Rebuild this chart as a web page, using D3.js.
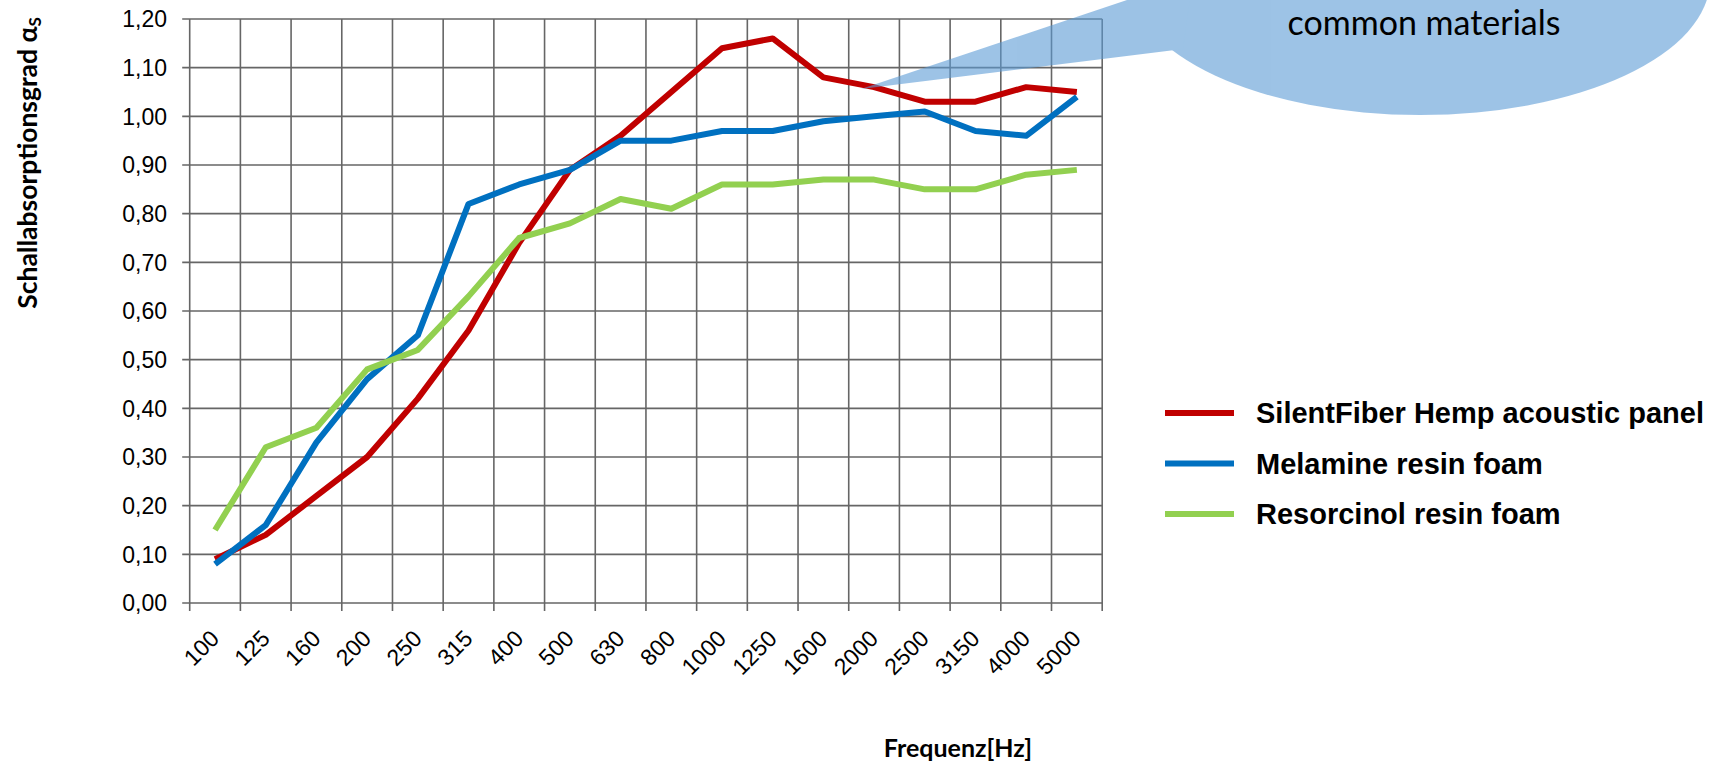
<!DOCTYPE html>
<html lang="de">
<head>
<meta charset="UTF-8">
<title>Schallabsorptionsgrad</title>
<script src="https://d3js.org/d3.v7.min.js"></script>
<style>
  body { margin: 0; background: #fff; }
  .tick-label { font-family: "Liberation Sans", Arial, sans-serif; font-size: 23px; fill: #000; }
  .legend-text { font-family: "Liberation Sans", Arial, sans-serif; font-size: 29px; font-weight: bold; fill: #000; }
  .axis-title { font-family: Lato, "Open Sans", sans-serif; font-weight: bold; fill: #000; }
  .grid { stroke: #666; stroke-width: 1.6; }
</style>
</head>
<body>
<svg id="chart"></svg>
<script>
const frequencies = ["100", "125", "160", "200", "250", "315", "400", "500", "630", "800",
                     "1000", "1250", "1600", "2000", "2500", "3150", "4000", "5000"];
const silentFiber = [0.09, 0.14, 0.22, 0.30, 0.42, 0.56, 0.74, 0.89, 0.96, 1.05,
                     1.14, 1.16, 1.08, 1.06, 1.03, 1.03, 1.06, 1.05];
const melamine = [0.08, 0.16, 0.33, 0.46, 0.55, 0.82, 0.86, 0.89, 0.95, 0.95,
                  0.97, 0.97, 0.99, 1.00, 1.01, 0.97, 0.96, 1.04];
const resorcinol = [0.15, 0.32, 0.36, 0.48, 0.52, 0.63, 0.75, 0.78, 0.83, 0.81,
                    0.86, 0.86, 0.87, 0.87, 0.85, 0.85, 0.88, 0.89];
const seriesNames = ["SilentFiber Hemp acoustic panel", "Melamine resin foam", "Resorcinol resin foam"];
const seriesColors = ["#c00000", "#0070c0", "#92d050"];
const yTickValues = [0, 0.1, 0.2, 0.3, 0.4, 0.5, 0.6, 0.7, 0.8, 0.9, 1.0, 1.1, 1.2];

const width = 1713;
const height = 765;

const svg = d3.select("#chart")
    .attr("width", width)
    .attr("height", height);

const x = d3.scaleBand()
    .domain(frequencies)
    .range([189.7, 1102.2]);

const y = d3.scaleLinear()
    .domain([0, 1.2])
    .range([603, 19]);

const fmt = d3.formatLocale({ decimal: ",", thousands: ".", grouping: [3], currency: ["", "€"] }).format(".2f");

const xLines = frequencies.map(f => x(f)).concat([x.range()[1]]);

// gridlines
svg.append("g").selectAll("line")
    .data(yTickValues)
    .enter().append("line")
    .attr("class", "grid")
    .attr("x1", x.range()[0] - 7.5)
    .attr("x2", x.range()[1])
    .attr("y1", d => y(d))
    .attr("y2", d => y(d));

svg.append("g").selectAll("line")
    .data(xLines)
    .enter().append("line")
    .attr("class", "grid")
    .attr("x1", d => d)
    .attr("x2", d => d)
    .attr("y1", y(1.2))
    .attr("y2", y(0) + 8);

// y labels
svg.append("g").selectAll("text")
    .data(yTickValues)
    .enter().append("text")
    .attr("class", "tick-label")
    .attr("x", 167)
    .attr("y", d => y(d))
    .attr("dy", "0.36em")
    .attr("text-anchor", "end")
    .text(d => fmt(d));

// x labels
svg.append("g").selectAll("text")
    .data(frequencies)
    .enter().append("text")
    .attr("class", "tick-label")
    .attr("transform", d => `translate(${x(d) + x.bandwidth() / 2 + 5.5},640) rotate(-45)`)
    .attr("text-anchor", "end")
    .text(d => d);

// lines
const allSeries = [silentFiber, melamine, resorcinol];
const line = d3.line()
    .x((d, i) => x(frequencies[i]) + x.bandwidth() / 2)
    .y(d => y(d));

svg.append("g").selectAll("path")
    .data(allSeries)
    .enter().append("path")
    .attr("fill", "none")
    .attr("stroke", (d, i) => seriesColors[i])
    .attr("stroke-width", 6)
    .attr("stroke-linejoin", "round")
    .attr("d", line);

// legend
const legend = svg.append("g");
seriesNames.forEach((name, i) => {
    const ly = 413 + i * 50.5;
    legend.append("line")
        .attr("x1", 1165).attr("x2", 1234)
        .attr("y1", ly).attr("y2", ly)
        .attr("stroke", seriesColors[i])
        .attr("stroke-width", 6);
    legend.append("text")
        .attr("class", "legend-text")
        .attr("x", 1256)
        .attr("y", ly)
        .attr("dy", "0.36em")
        .text(name);
});

// axis titles
svg.append("text")
    .attr("class", "axis-title")
    .attr("x", 958)
    .attr("y", 757)
    .attr("text-anchor", "middle")
    .style("font-size", "25px")
    .text("Frequenz[Hz]");

const yTitle = svg.append("text")
    .attr("class", "axis-title")
    .attr("transform", "translate(37,163) rotate(-90)")
    .attr("text-anchor", "middle")
    .style("font-size", "26.5px");
yTitle.append("tspan").text("Schallabsorptionsgrad α");
yTitle.append("tspan").attr("dy", "0.25em").style("font-size", "17px").text("S");

// callout bubble
const bubble = svg.append("g").attr("opacity", 0.6);
bubble.append("ellipse")
    .attr("cx", 1420).attr("cy", -20)
    .attr("rx", 290).attr("ry", 135)
    .attr("fill", "#5b9bd5");
bubble.append("path")
    .attr("d", "M861,89 L1133,-2 L1190,-2 L1183,49 Z")
    .attr("fill", "#5b9bd5");

svg.append("text")
    .attr("x", 1424)
    .attr("y", 35)
    .attr("text-anchor", "middle")
    .style("font-family", "Lato, sans-serif")
    .style("font-size", "34px")
    .text("common materials");
</script>
</body>
</html>
